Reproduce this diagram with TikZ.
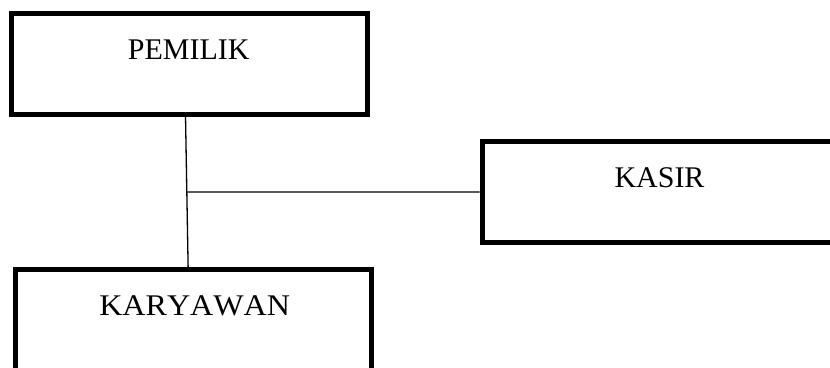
\documentclass[tikz,border=0pt]{standalone}
\usepackage{fontspec}
\setmainfont[Kerning=Off]{Liberation Serif}
\usetikzlibrary{calc}
\begin{document}
\begin{tikzpicture}[x=1pt,y=-1pt,
  box/.style={draw=black,line width=5pt,rectangle,minimum width=356pt,minimum height=101pt,inner sep=0pt},
  lbl/.style={anchor=base,inner sep=0pt,font=\fontsize{30}{36}\selectfont},
  conn/.style={draw=black,line width=1.3pt}]
\useasboundingbox (0,0) rectangle (830,367);
\clip (0,0) rectangle (830,367);
\node[box] (pemilik) at (189.5,64) {};
\node[box] (kasir) at (660,191.9) {};
\node[box] (karyawan) at (193.9,320) {};
\node[lbl] (tpemilik) at (188.8,59.3) {PEMILIK};
\node[lbl] (tkasir) at (659.5,187.3) {KASIR};
\node[lbl,xscale=1.07] (tkaryawan) at (194.7,315.7) {KARYAWAN};
\coordinate (v1) at ($(pemilik.south west)!0.489!(pemilik.south east)$);
\coordinate (v2) at ($(karyawan.north west)!0.484!(karyawan.north east)$);
\coordinate (jn) at ($(v1)!0.5!(v2)$);
\draw[conn] (v1) -- (v2);
\draw[conn] (jn) -- (kasir.west);
\end{tikzpicture}
\end{document}
